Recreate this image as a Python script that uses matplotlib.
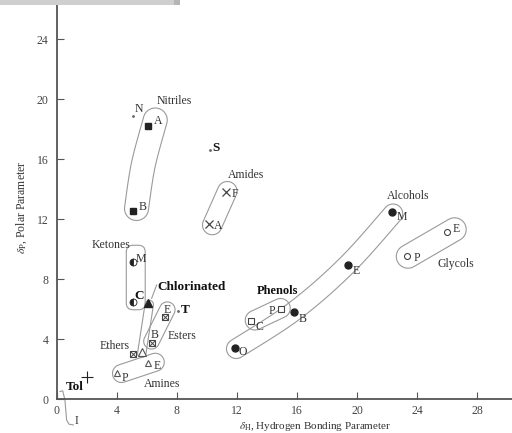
#!/usr/bin/env python3
"""
Hansen solubility map: polar vs hydrogen bonding parameter
"""

import matplotlib
matplotlib.use('Agg')
import matplotlib.pyplot as plt
from matplotlib.patches import FancyBboxPatch, Rectangle, Polygon
import numpy as np

plt.rcParams['font.family'] = ['Liberation Serif', 'DejaVu Serif']
plt.rcParams['mathtext.fontset'] = 'stix'

# --- data (delta_H, delta_P) ---
nitrile_x = [6.07, 5.07]
nitrile_y = [18.2, 12.53]
nitrile_lab = ['A', 'B']

amide_x = [11.27, 10.15]
amide_y = [13.8, 11.67]
amide_lab = ['F', 'A']

alcohol_x = [22.3, 19.4, 15.8, 11.87]
alcohol_y = [12.45, 8.93, 5.82, 3.42]
alcohol_lab = ['M', 'E', 'B', 'O']

glycol_x = [26.0, 23.3]
glycol_y = [11.15, 9.53]
glycol_lab = ['E', 'P']

phenol_x = [12.9, 14.9]
phenol_y = [5.22, 6.02]
phenol_lab = ['C', 'P']

ketone_x = [5.04, 5.04]
ketone_y = [9.11, 6.44]
ketone_lab = ['M', 'C']

chlor_x = [6.09]
chlor_y = [6.38]

ester_x = [7.2, 6.31, 5.09]
ester_y = [5.44, 3.76, 3.0]
ester_lab = ['E', 'B', '']

ether_x = [5.64]
ether_y = [3.11]

amine_x = [6.09, 4.02]
amine_y = [2.42, 1.76]
amine_lab = ['E', 'P']

tol_x = [1.98]
tol_y = [1.49]

single_x = [5.07, 10.2, 8.09]
single_y = [18.9, 16.6, 5.89]
single_lab = ['N', 'S', 'T']

# --- figure ---
fig = plt.figure(figsize=(5.12, 4.33), dpi=100)
ax = fig.add_axes([57/512, 34/433, 455/512, 399/433])
ax.set_xlim(0, 455/15)
ax.set_ylim(0, 399/15)

for s in ['top', 'right']:
    ax.spines[s].set_visible(False)
for s in ['left', 'bottom']:
    ax.spines[s].set_color('#555555')
    ax.spines[s].set_linewidth(1.3)
ax.set_xticks(range(0, 29, 4))
ax.set_yticks(range(0, 25, 4))
ax.tick_params(direction='in', length=5, width=0.8, color='#555555',
               labelsize=8.5, labelcolor='#444444', pad=6)
ax.tick_params(axis='x', pad=4)

ink = '#222222'
env = '#9a9a9a'
lab_col = '#333333'


def sausage(pts, r, n=60):
    """closed outline around a smooth centerline"""
    p = np.array(pts, float)
    if len(p) > 2:
        q = np.vstack([p[0], p, p[-1]])
        seg = []
        for i in range(1, len(q) - 2):
            p0, p1, p2, p3 = q[i-1], q[i], q[i+1], q[i+2]
            t = np.linspace(0, 1, n, endpoint=False)[:, None]
            seg.append(0.5 * ((2*p1) + (-p0 + p2)*t + (2*p0 - 5*p1 + 4*p2 - p3)*t**2
                              + (-p0 + 3*p1 - 3*p2 + p3)*t**3))
        seg.append(p[-1][None, :])
        c = np.vstack(seg)
    else:
        t = np.linspace(0, 1, n)[:, None]
        c = p[0] + (p[1] - p[0]) * t
    tan = np.gradient(c, axis=0)
    tan /= np.linalg.norm(tan, axis=1)[:, None]
    nor = np.column_stack([-tan[:, 1], tan[:, 0]])
    left = c + r * nor
    right = c - r * nor
    th = np.linspace(0, np.pi, 30)[:, None]
    cap_end = c[-1] + r * (np.cos(th) * nor[-1] + np.sin(th) * tan[-1])
    cap_start = c[0] + r * (np.cos(th) * -nor[0] + np.sin(th) * -tan[0])
    return np.vstack([left, cap_end, right[::-1], cap_start])


envelopes = [
    ([(5.3, 12.7), (5.75, 15.6), (6.55, 18.6)], 0.8),          # nitriles
    ([(10.35, 11.6), (11.35, 13.85)], 0.65),                    # amides
    ([(11.95, 3.35), (15.8, 5.85), (19.3, 8.9), (22.4, 12.35)], 0.65),  # alcohols
    ([(23.4, 9.5), (26.5, 11.3)], 0.78),                        # glycols
    ([(13.2, 5.25), (14.9, 6.05)], 0.65),                       # phenols
    ([(6.15, 6.3), (5.65, 3.05)], 0.28),                        # chlorinated/ethers
    ([(7.35, 5.95), (6.3, 3.85)], 0.52),                        # esters
    ([(4.3, 1.7), (6.55, 2.45)], 0.6),                          # amines
]
for pts, r in envelopes:
    ax.add_patch(Polygon(sausage(pts, r), closed=True, fill=False,
                         edgecolor=env, linewidth=0.8, zorder=1))

ax.add_patch(FancyBboxPatch((4.62, 5.95), 1.26, 4.3,
                            boxstyle='round,pad=0,rounding_size=0.45',
                            fill=False, edgecolor=env, linewidth=0.8, zorder=1))

# leader lines
ax.plot([6.64, 6.31], [7.6, 6.71], color=env, lw=0.8)
ax.plot([0.2, 0.38, 0.53, 0.64, 0.8, 1.09], [0.5, 0.55, -0.07, -1.4, -1.68, -1.73],
        color=env, lw=0.8, clip_on=False)

# markers
ax.plot(nitrile_x, nitrile_y, 's', ms=5, color=ink, zorder=3)
ax.plot(amide_x, amide_y, 'x', ms=5.5, mew=0.9, color='#444444', zorder=3)
ax.plot(alcohol_x, alcohol_y, 'o', ms=5, color=ink, zorder=3)
ax.plot(glycol_x, glycol_y, 'o', ms=4.3, mfc='white', mec='#444444', mew=0.8, zorder=3)
ax.plot(phenol_x, phenol_y, 's', ms=5, mfc='white', mec='#444444', mew=0.8, zorder=3)
ax.plot(ketone_x, ketone_y, 'o', ms=5, fillstyle='left', color=ink,
        markerfacecoloralt='white', mew=0.6, zorder=3)
ax.plot(chlor_x, chlor_y, '^', ms=6, color=ink, zorder=3)
ax.plot(ester_x, ester_y, 's', ms=5, mfc='white', mec='#444444', mew=0.8, zorder=3)
ax.plot(ester_x, ester_y, 'x', ms=4, mew=0.7, color='#444444', zorder=4)
ax.plot(ether_x, ether_y, '^', ms=5.5, mfc='white', mec='#555555', mew=0.8, zorder=3)
ax.plot(amine_x, amine_y, '^', ms=5, mfc='white', mec='#555555', mew=0.8, zorder=3)
ax.plot(tol_x, tol_y, '+', ms=8, mew=0.8, color=ink, zorder=3)
ax.plot(single_x, single_y, '.', ms=2, color='#666666', zorder=3)

# point labels (offset in pixels)
groups = [
    (nitrile_x, nitrile_y, nitrile_lab, [(10, 5), (10, 4)], 'normal'),
    (amide_x, amide_y, amide_lab, [(9, -2), (9, -2)], 'normal'),
    (alcohol_x, alcohol_y, alcohol_lab, [(10, -5), (8, -6), (9, -7), (8, -4)], 'normal'),
    (glycol_x, glycol_y, glycol_lab, [(9, 3), (10, -2)], 'normal'),
    (phenol_x, phenol_y, phenol_lab, [(9, -6), (-9, -2)], 'normal'),
    (ketone_x[:1], ketone_y[:1], ketone_lab[:1], [(8, 3)], 'normal'),
    (ketone_x[1:], ketone_y[1:], ketone_lab[1:], [(7, 6)], 'bold'),
    (ester_x[:2], ester_y[:2], ester_lab[:2], [(2, 7), (3, 8)], 'normal'),
    (amine_x, amine_y, amine_lab, [(9, -3), (8, -5)], 'normal'),
    (single_x[:1], single_y[:1], single_lab[:1], [(6, 6)], 'normal'),
    (single_x[1:], single_y[1:], single_lab[1:], [(6, 2), (7, 1)], 'bold'),
]
for xs, ys, labs, offs, w in groups:
    for x, y, t, o in zip(xs, ys, labs, offs):
        ax.annotate(t, (x, y), xytext=o, textcoords='offset pixels',
                    ha='center', va='center', fontsize=9.5 if w == 'bold' else 8.5,
                    fontweight=w, color=lab_col if w == 'normal' else '#111111')

# group labels
ax.text(7.8, 19.87, 'Nitriles', fontsize=8.5, ha='center', va='center', color=lab_col)
ax.text(12.6, 14.93, 'Amides', fontsize=8.5, ha='center', va='center', color=lab_col)
ax.text(23.4, 13.53, 'Alcohols', fontsize=8.5, ha='center', va='center', color=lab_col)
ax.text(26.6, 9.0, 'Glycols', fontsize=8.5, ha='center', va='center', color=lab_col)
ax.text(14.73, 7.2, 'Phenols', fontsize=9, fontweight='bold', ha='center', va='center', color='#111111')
ax.text(3.6, 10.27, 'Ketones', fontsize=8.5, ha='center', va='center', color=lab_col)
ax.text(6.67, 7.47, 'Chlorinated', fontsize=9.5, fontweight='bold', ha='left', va='center', color='#111111')
ax.text(8.33, 4.2, 'Esters', fontsize=8.5, ha='center', va='center', color=lab_col)
ax.text(3.87, 3.53, 'Ethers', fontsize=8.5, ha='center', va='center', color=lab_col)
ax.text(7.0, 1.0, 'Amines', fontsize=8.5, ha='center', va='center', color=lab_col)
ax.text(1.2, 0.8, 'Tol', fontsize=9.5, fontweight='bold', ha='center', va='center', color='#111111')
ax.text(1.31, -1.45, 'I', fontsize=8.5, ha='center', va='center', color=lab_col, clip_on=False)

# axis titles
fig.text(315/512, 1 - 426.5/433, r'$\delta_{\rm H}$, Hydrogen Bonding Parameter',
         fontsize=8, ha='center', va='center', color=lab_col)
fig.text(22/512, 1 - 207/433, r'$\delta_{\rm P}$, Polar Parameter', rotation=90,
         fontsize=8.5, ha='center', va='center', color=lab_col)

# grey bar at top edge
fig.patches.append(Rectangle((0, 1 - 5/433), 175/512, 5/433, transform=fig.transFigure,
                             facecolor='#cfcfcf', edgecolor='none', zorder=5))
fig.patches.append(Rectangle((174/512, 1 - 5/433), 6/512, 5/433, transform=fig.transFigure,
                             facecolor='#b5b5b5', edgecolor='none', zorder=5))

fig.savefig('out.png', dpi=100)
